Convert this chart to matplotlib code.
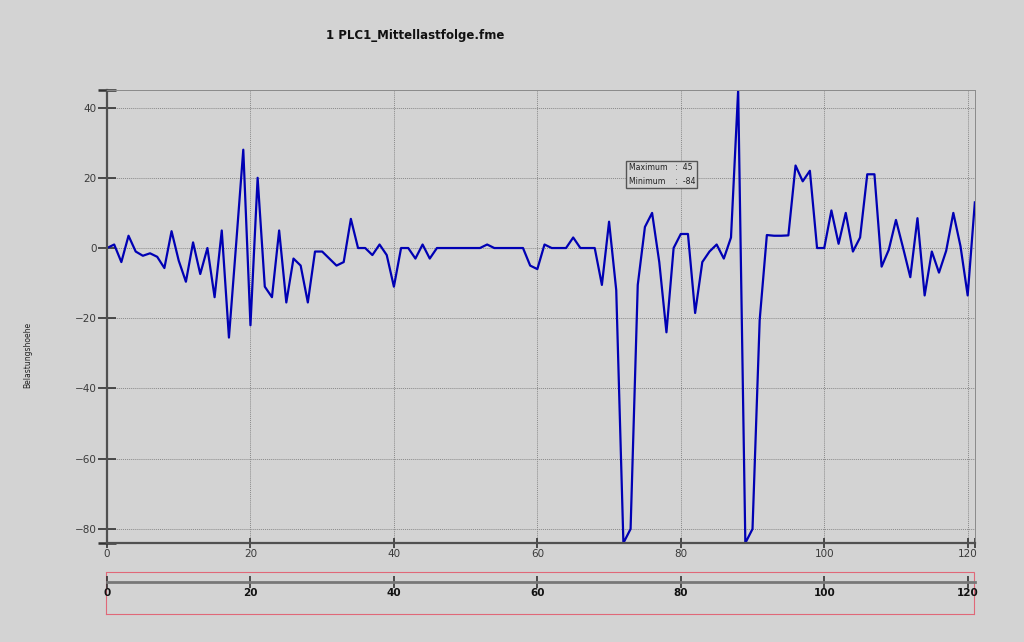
import numpy as np
import matplotlib
matplotlib.use('Agg')
import matplotlib.pyplot as plt

# Belastungshoehe per step
values = [0, 1, -4, 3.5, -1, -2.2, -1.5, -2.5, -5.7, 4.8,
          -3.6, -9.6, 1.6, -7.4, 0, -14, 5, -25.5, 1, 28,
          -22, 20, -11, -14, 5, -15.5, -3, -5, -15.5, -1,
          -1, -3, -5, -4, 8.3, 0, 0, -2, 1, -2,
          -11, 0, 0, -3, 1, -3, 0, 0, 0, 0,
          0, 0, 0, 1, 0, 0, 0, 0, 0, -5,
          -6, 1, 0, 0, 0, 3, 0, 0, 0, -10.5,
          7.5, -12, -84, -80, -10.5, 6, 10, -4, -24, 0,
          4, 4, -18.5, -4, -1, 1, -3, 3, 45, -84,
          -80, -20.5, 3.7, 3.5, 3.5, 3.6, 23.5, 19, 22, 0,
          0, 10.7, 1.2, 10, -1, 3, 21, 21, -5.3, -0.5,
          8, 0, -8.3, 8.5, -13.5, -1, -7, -0.8, 10, 0.5,
          -13.5, 13]
steps = np.arange(len(values))
x_ticks = [0, 20, 40, 60, 80, 100, 120]
y_ticks = [-80, -60, -40, -20, 0, 20, 40]
title = '1 PLC1_Mittellastfolge.fme'
ylabel = 'Belastungshoehe'

bg = '#d3d3d3'
dots = (0, (1, 1))
fig = plt.figure(figsize=(10.24, 6.42), dpi=100, facecolor=bg)

ax = fig.add_axes([0.1045, 0.1542, 0.8475, 0.7056], facecolor=bg)
ax.plot(steps, values, color='#0000b4', lw=1.6)
ax.set_xlim(0, max(steps))
ax.set_ylim(min(values), max(values))
ax.set_xticks(x_ticks)
ax.set_yticks(y_ticks)
ax.set_xticks([max(steps)], minor=True)
ax.set_yticks([min(values), max(values)], minor=True)
ax.grid(True, which='major', ls=dots, color='#8a8a8a', lw=0.7)
ax.tick_params(which='both', direction='inout', width=1.2,
               color='#333333', labelsize=7.5, labelcolor='#3a3a3a', pad=1)
ax.tick_params(axis='y', which='both', length=13)
ax.tick_params(axis='x', which='both', length=7)
ax.tick_params(axis='y', which='minor', width=1.8)
for s in ['left', 'bottom']:
    ax.spines[s].set_color('#505050')
    ax.spines[s].set_linewidth(1.6)
for s in ['top', 'right']:
    ax.spines[s].set_color('#8a8a8a')
    ax.spines[s].set_linestyle(dots)
    ax.spines[s].set_linewidth(0.7)

ax.text(0.601, 0.838,
        'Maximum   :  %d\nMinimum    :  %d' % (max(values), min(values)),
        transform=ax.transAxes, fontsize=5.6, va='top', ha='left',
        color='#222222', linespacing=1.6,
        bbox=dict(boxstyle='square,pad=0.3', fc=bg, ec='#555555', lw=1))

fig.text(0.405, 0.944, title, ha='center', va='center', fontsize=8.5,
         fontweight='bold', color='#111111')
fig.text(0.027, 0.447, ylabel, rotation=90, ha='center', va='center',
         fontsize=5.5, color='#222222')

# overview strip below the chart
nav = fig.add_axes([0.1035, 0.0436, 0.848, 0.0654], facecolor=bg)
nav.set_xticks([])
nav.set_yticks([])
for s in nav.spines.values():
    s.set_color('#e06878')
    s.set_linestyle(dots)
    s.set_linewidth(0.8)

scale = fig.add_axes([0.1045, 0.0935, 0.8475, 0.0001])
scale.patch.set_visible(False)
scale.set_xlim(0, max(steps))
scale.set_yticks([])
scale.set_xticks(x_ticks)
for s in ['top', 'left', 'right']:
    scale.spines[s].set_visible(False)
scale.spines['bottom'].set_color('#777777')
scale.spines['bottom'].set_linewidth(2.0)
scale.tick_params(direction='inout', length=8, width=1.2, color='#333333',
                  labelsize=7.5, labelcolor='#111111', pad=0)
for lab in scale.get_xticklabels():
    lab.set_fontweight('bold')

fig.savefig('out.png', dpi=100, facecolor=bg)
